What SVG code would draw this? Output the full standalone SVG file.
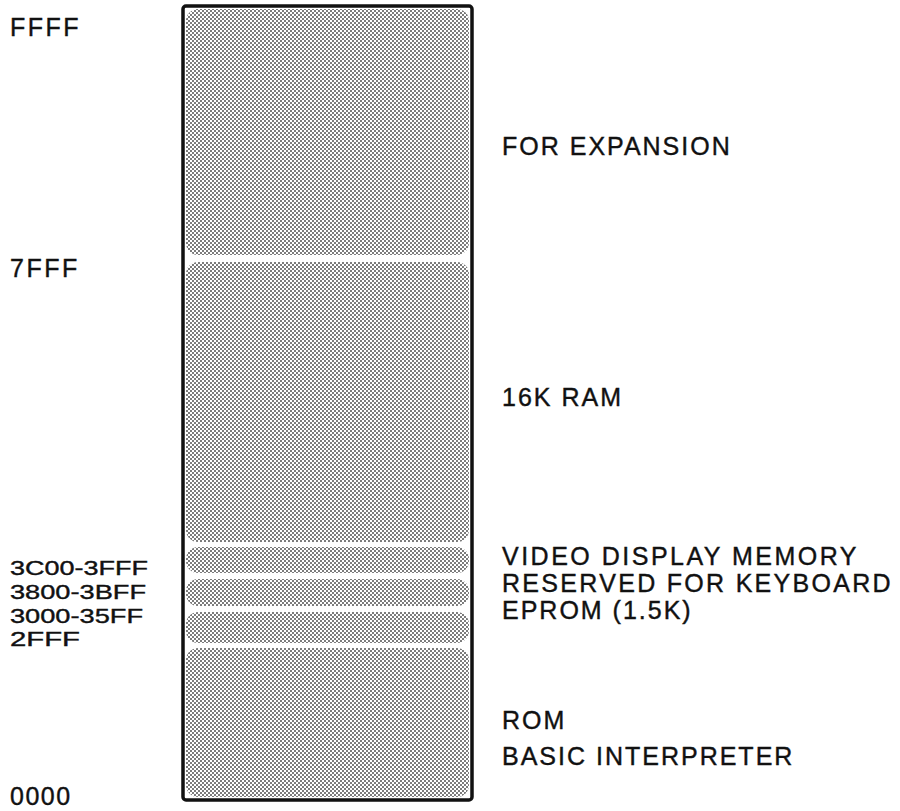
<svg xmlns="http://www.w3.org/2000/svg" width="900" height="811" viewBox="0 0 900 811">
<defs>
<pattern id="dots" width="4" height="4" patternUnits="userSpaceOnUse">
<rect width="4" height="4" fill="#ffffff"/>
<circle cx="1" cy="1" r="0.95" fill="#444444"/>
<circle cx="3" cy="3" r="0.95" fill="#444444"/>
</pattern>
</defs>
<style>
.band{fill:url(#dots);}
.lbl{font-family:"Liberation Sans",Arial,sans-serif;font-size:25px;fill:#111;stroke:#111;stroke-width:0.4;letter-spacing:2px;}
.sm{font-size:21px;letter-spacing:0;}
.frame{fill:none;stroke:#111;stroke-width:3.5;}
</style>
<rect width="900" height="811" fill="#ffffff"/>
<g id="memory-map">
<rect class="frame" x="183" y="6" width="289" height="794" rx="3"/>
</g>
<g id="expansion">
<rect class="band" x="186" y="9" width="283" height="246" rx="12"/>
<text class="lbl" x="502" y="155">FOR EXPANSION</text>
</g>
<g id="ram">
<rect class="band" x="186" y="262" width="283" height="280" rx="12"/>
<text class="lbl" x="502" y="406">16K RAM</text>
</g>
<g id="video">
<rect class="band" x="186" y="547" width="283" height="26" rx="12"/>
<text class="lbl" x="502" y="565" style="letter-spacing:2.5px">VIDEO DISPLAY MEMORY</text>
</g>
<g id="keyboard">
<rect class="band" x="186" y="579" width="283" height="27" rx="12"/>
<text class="lbl" x="502" y="592" style="letter-spacing:2.3px">RESERVED FOR KEYBOARD</text>
</g>
<g id="eprom">
<rect class="band" x="186" y="612" width="283" height="31" rx="12"/>
<text class="lbl" x="502" y="619">EPROM (1.5K)</text>
</g>
<g id="rom">
<rect class="band" x="186" y="648" width="283" height="149" rx="12"/>
<text class="lbl" x="502" y="729">ROM</text>
<text class="lbl" x="502" y="765">BASIC INTERPRETER</text>
</g>
<g id="addresses">
<text class="lbl" x="10" y="36" style="letter-spacing:2.5px">FFFF</text>
<text class="lbl" x="10" y="277" style="letter-spacing:2.5px">7FFF</text>
<text class="lbl sm" x="10" y="575" textLength="138" lengthAdjust="spacingAndGlyphs">3C00-3FFF</text>
<text class="lbl sm" x="10" y="599" textLength="136" lengthAdjust="spacingAndGlyphs">3800-3BFF</text>
<text class="lbl sm" x="10" y="623" textLength="133" lengthAdjust="spacingAndGlyphs">3000-35FF</text>
<text class="lbl sm" x="10" y="646" textLength="70" lengthAdjust="spacingAndGlyphs">2FFF</text>
<text class="lbl" x="10" y="805" style="letter-spacing:1.5px">0000</text>
</g>
<g id="connectors"></g>
</svg>
